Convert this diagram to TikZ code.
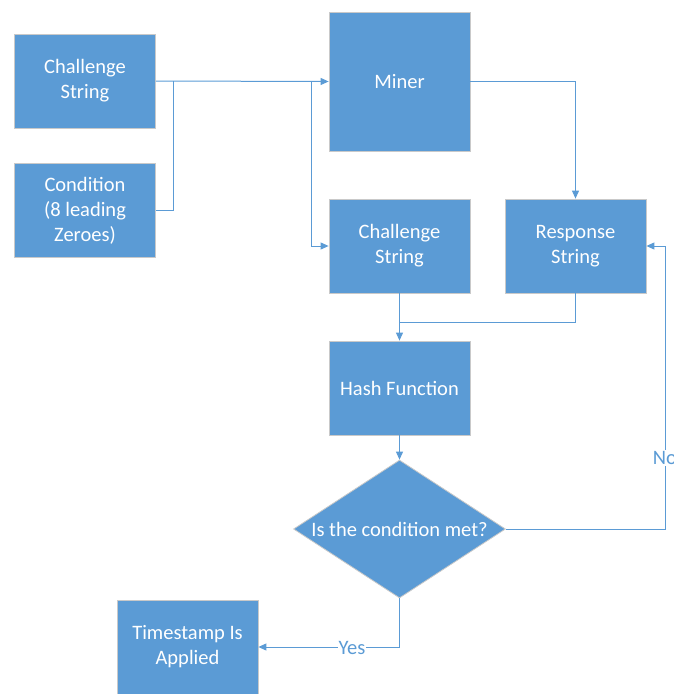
\documentclass[tikz,border=0pt]{standalone}
\usepackage{fontspec}
\setmainfont{Carlito}
\usetikzlibrary{shapes.geometric,arrows.meta}
\definecolor{boxblue}{HTML}{5B9BD5}
\definecolor{lineblue}{HTML}{5B9BD5}
\definecolor{edgegray}{HTML}{C9C9C9}
\tikzset{
  box/.style={rectangle, fill=boxblue, draw=edgegray, line width=0.8pt,
    minimum width=141pt, minimum height=94pt, inner sep=0pt,
    text=white, align=center, font=\fontsize{20.5}{25}\selectfont},
  decision/.style={diamond, fill=boxblue, draw=edgegray, line width=0.8pt,
    minimum width=212pt, minimum height=138pt, inner sep=0pt},
  conn/.style={draw=lineblue, line width=1pt},
  arr/.style={conn, -{Triangle[length=8pt,width=7pt]}},
  lbl/.style={fill=white, inner sep=1pt, text=boxblue, font=\fontsize{20.5}{25}\selectfont}
}
\begin{document}
\begin{tikzpicture}[x=1pt,y=-1pt]
\useasboundingbox (0,0) rectangle (673,694);
\node[box] (cs1) at (85,81) {Challenge\\String};
\node[box] (cond) at (85,210.5) {Condition\\(8 leading\\Zeroes)};
\node[box, minimum height=139pt] (miner) at (399.5,81.5) {Miner};
\node[box] (cs2) at (399.5,246) {Challenge\\String};
\node[box] (resp) at (575.5,246) {Response\\String};
\node[box] (hash) at (399.5,388) {Hash Function};
\node[decision] (dec) at (399.5,529) {};
\node[text=white, font=\fontsize{20.5}{25}\selectfont] (dectext) at (dec.center) {Is the condition met?};
\node[box] (ts) at (187.5,647) {Timestamp Is\\Applied};
% connectors
\coordinate (j1) at (173,81);
\coordinate (j2) at (311,81);
\coordinate (j3) at (399.5,322);
\coordinate (nox) at (665,529);
\draw[arr] (cs1.east) -- (miner.west);
\draw[conn] (cond.east) -- (cond.east -| j1) -- (j1);
\draw[arr] (j2) -- (j2 |- cs2.west) -- (cs2.west);
\draw[arr] (miner.east) -| (resp.north);
\draw[arr] (cs2.south) -- (hash.north);
\draw[conn] (resp.south) |- (j3);
\draw[arr] (hash.south) -- (dec.north);
\draw[arr] (dec.east) -- (nox) -- (nox |- resp.east) -- (resp.east);
\node[lbl] (nolbl) at (665,458) {No};
\draw[arr] (dec.south) |- (ts.east);
\node[lbl] (yeslbl) at (352,648) {Yes};
\end{tikzpicture}
\end{document}
